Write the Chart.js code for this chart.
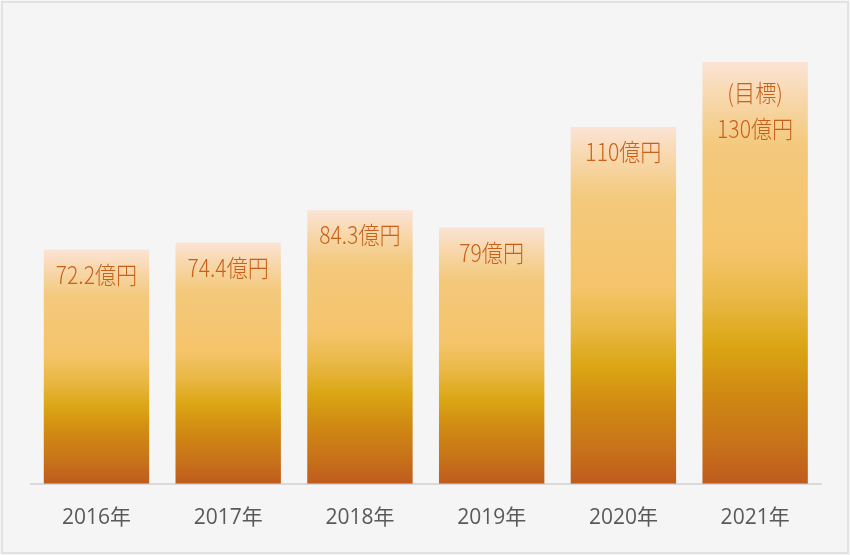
<!DOCTYPE html>
<html><head><meta charset="utf-8">
<script src="https://cdn.jsdelivr.net/npm/chart.js@4/dist/chart.umd.min.js"></script>
<style>html,body{margin:0;padding:0;background:#fff}#wrap{width:850px;height:555px;position:relative}canvas{display:block}</style>
</head><body><div id="wrap"><canvas id="c" width="850" height="555"></canvas></div>
<script>
const categories = ["2016年","2017年","2018年","2019年","2020年","2021年"];
const values = [72.2, 74.4, 84.3, 79, 110, 130];
const valueLabels = [["72.2億円"],["74.4億円"],["84.3億円"],["79億円"],["110億円"],["(目標)","130億円"]];

const gradStops = [
  [0.00,"#fbe4d6"],[0.08,"#f8d8ae"],[0.20,"#f3c97c"],[0.45,"#f5c46a"],
  [0.56,"#e9b845"],[0.67,"#dba614"],[0.80,"#cf8613"],[0.90,"#c8731a"],[1.00,"#bf5b1e"]
];

const bgPlugin = {
  id:'bg',
  beforeDraw(chart){
    const ctx = chart.ctx;
    ctx.save();
    ctx.fillStyle = '#f5f5f5';
    ctx.fillRect(0,0,chart.width,chart.height);
    ctx.strokeStyle = '#e2e2e2';
    ctx.lineWidth = 2;
    ctx.strokeRect(2,2,chart.width-4,chart.height-4);
    ctx.restore();
  }
};

const labelPlugin = {
  id:'vlabels',
  afterDatasetsDraw(chart){
    const ctx = chart.ctx;
    const meta = chart.getDatasetMeta(0);
    meta.data.forEach((bar, i) => {
      const lines = valueLabels[i];
      const first = lines.length > 1 ? 31 : 25;
      lines.forEach((t, j) => {
        ctx.save();
        ctx.fillStyle = '#c8601a';
        ctx.font = '300 24px "Noto Sans CJK JP", sans-serif';
        ctx.textAlign = 'center';
        ctx.textBaseline = 'middle';
        ctx.translate(bar.x, bar.y + first + j*36);
        ctx.scale(0.88, 1);
        ctx.fillText(t, 0, 0);
        ctx.restore();
      });
    });
  }
};

new Chart(document.getElementById('c'), {
  type:'bar',
  data:{
    labels: categories,
    datasets:[{
      data: values,
      categoryPercentage: 1.0,
      barPercentage: 0.8,
      borderWidth: 0,
      backgroundColor(ctx){
        const chart = ctx.chart;
        const ys = chart.scales.y;
        if (!ys || ctx.dataIndex === undefined) return '#f5c46a';
        const top = ys.getPixelForValue(values[ctx.dataIndex]);
        const base = ys.getPixelForValue(0);
        if (!isFinite(top) || !isFinite(base)) return '#f5c46a';
        const g = chart.ctx.createLinearGradient(0, top, 0, base);
        gradStops.forEach(s => g.addColorStop(s[0], s[1]));
        return g;
      }
    }]
  },
  options:{
    responsive:false,
    animation:false,
    devicePixelRatio:1,
    layout:{padding:{left:30.6, right:29, top:62, bottom:2}},
    plugins:{legend:{display:false}, tooltip:{enabled:false}},
    scales:{
      y:{display:false, min:0, max:130},
      x:{
        grid:{display:false, drawTicks:false},
        border:{display:true, color:'#d9d9d9', width:2},
        ticks:{color:'#595959', padding:22, font:{family:'"Open Sans", "Noto Sans CJK JP", sans-serif', size:21}}
      }
    }
  },
  plugins:[bgPlugin, labelPlugin]
});
</script></body></html>
